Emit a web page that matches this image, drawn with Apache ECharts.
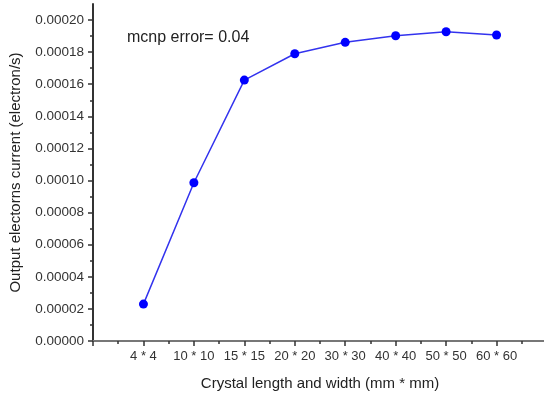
<!DOCTYPE html>
<html>
<head>
<meta charset="utf-8">
<script src="https://cdn.jsdelivr.net/npm/echarts@6/dist/echarts.min.js"></script>
<style>
  html, body { margin: 0; padding: 0; background: #fff; }
  #chart { width: 544px; height: 394px; }
</style>
</head>
<body>
<div id="chart"></div>
<script>
// crystal sizes along x, placed at positions 1..8 of a 0..9 axis
const categories = ["4 * 4", "10 * 10", "15 * 15", "20 * 20", "30 * 30", "40 * 40", "50 * 50", "60 * 60"];
const current = [0.000023, 0.0000986, 0.0001626, 0.000179, 0.0001861, 0.0001902, 0.0001927, 0.0001907];
const yMajor = [0, 0.00002, 0.00004, 0.00006, 0.00008, 0.0001, 0.00012, 0.00014, 0.00016, 0.00018, 0.0002];
const yMinor = [0.00001, 0.00003, 0.00005, 0.00007, 0.00009, 0.00011, 0.00013, 0.00015, 0.00017, 0.00019];

const font = "Liberation Sans, Arial, sans-serif";
const axisColor = "#333";

const chart = echarts.init(document.getElementById("chart"), null, { renderer: "canvas" });

const points = current.map((v, i) => [i + 1, v]);

const option = {
  backgroundColor: "#fff",
  animation: false,
  grid: { left: 93, top: 4, right: -3, bottom: 53, outerBoundsMode: "none" },
  xAxis: [
    {
      type: "value",
      min: 0,
      max: 9,
      interval: 1,
      name: "Crystal length and width (mm * mm)",
      nameLocation: "middle",
      nameGap: 35,
      nameTextStyle: { fontFamily: font, fontSize: 15, color: "#222" },
      axisLine: { lineStyle: { color: axisColor, width: 2 } },
      axisTick: { length: 5, lineStyle: { color: axisColor, width: 1.5 } },
      minorTick: { show: true, splitNumber: 2, length: 3, lineStyle: { color: axisColor, width: 1.5 } },
      splitLine: { show: false },
      axisLabel: {
        fontFamily: font, fontSize: 13, color: "#333", margin: 9,
        formatter: (v) => categories[v - 1] || ""
      }
    },
    {
      type: "value",
      position: "top",
      min: 0,
      max: 9,
      axisLine: { lineStyle: { color: "#777", width: 2 } },
      axisTick: { show: false },
      axisLabel: { show: false },
      splitLine: { show: false }
    }
  ],
  yAxis: [
    {
      type: "value",
      min: 0,
      max: 0.00021,
      name: "Output electorns current (electron/s)",
      nameLocation: "middle",
      nameGap: 70,
      nameTextStyle: { fontFamily: font, fontSize: 15, color: "#222" },
      axisLine: { show: true, lineStyle: { color: axisColor, width: 2 } },
      axisTick: { show: true, length: 5, customValues: yMajor, lineStyle: { color: axisColor, width: 1.5 } },
      splitLine: { show: false },
      axisLabel: {
        fontFamily: font, fontSize: 13.5, color: "#333", margin: 9,
        customValues: yMajor,
        formatter: (v) => v.toFixed(5)
      }
    },
    {
      type: "value",
      min: 0,
      max: 0.00021,
      position: "left",
      axisLine: { show: false },
      axisTick: { show: true, length: 3, customValues: yMinor, lineStyle: { color: axisColor, width: 1.5 } },
      axisLabel: { show: false },
      splitLine: { show: false }
    }
  ],
  graphic: [
    {
      type: "text",
      left: 127,
      top: 30,
      style: { text: "mcnp error= 0.04", fontFamily: font, fontSize: 16, fill: "#222" }
    }
  ],
  series: [
    {
      type: "line",
      data: points,
      symbol: "circle",
      symbolSize: 9,
      lineStyle: { color: "#3333ee", width: 1.5 },
      itemStyle: { color: "#0000ff" }
    }
  ]
};

chart.setOption(option);
</script>
</body>
</html>
